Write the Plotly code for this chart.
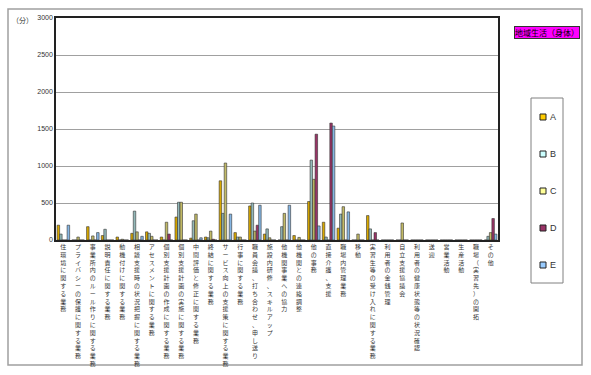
import plotly.graph_objects as go

categories = [
    "住環境に関する業務",
    "プライバシーの保護に関する業務",
    "事業所内のルール作りに関する業務",
    "説明責任に関する業務",
    "動機付けに関する業務",
    "相談支援時の状況把握に関する業務",
    "アセスメントに関する業務",
    "個別支援計画の作成に関する業務",
    "個別支援計画の実施に関する業務",
    "中間評価と修正に関する業務",
    "終結に関する業務",
    "サービス向上の支援策に関する業務",
    "行事に関する業務",
    "職員会議、打ち合わせ、申し送り",
    "施設内研修、スキルアップ",
    "他機関事業への協力",
    "他機関との連絡調整",
    "他の事務",
    "直接介護、支援",
    "職場内管理業務",
    "移動",
    "実習生等の受け入れに関する業務",
    "利用者の金銭管理",
    "自立支援協議会",
    "利用者の健康状態等の状況確認",
    "送迎",
    "営業活動",
    "生産活動",
    "職場（実習先）の開拓",
    "その他",
]

series_a = [200, 0, 180, 60, 40, 90, 110, 40, 310, 25, 40, 800, 100, 460, 80, 0, 60, 520, 240, 160, 0, 330, 0, 0, 0, 0, 0, 0, 0, 0]
series_b = [80, 0, 0, 145, 0, 390, 90, 0, 510, 260, 30, 360, 40, 500, 150, 180, 0, 1080, 40, 350, 0, 150, 0, 0, 0, 0, 0, 0, 0, 50]
series_c = [0, 40, 55, 0, 10, 110, 50, 240, 510, 350, 120, 1040, 40, 120, 30, 360, 35, 820, 0, 450, 80, 0, 0, 230, 0, 0, 0, 0, 0, 100]
series_d = [0, 0, 0, 0, 0, 0, 0, 80, 0, 0, 10, 0, 0, 200, 0, 0, 0, 1430, 1580, 0, 0, 100, 0, 0, 0, 0, 0, 0, 0, 290]
series_e = [200, 0, 100, 0, 0, 50, 0, 0, 0, 30, 0, 350, 0, 470, 0, 470, 0, 190, 1540, 380, 0, 0, 0, 0, 0, 0, 0, 0, 0, 80]

series_names = ["A", "B", "C", "D", "E"]
series_colors = ["#D8A800", "#92B8B8", "#C2BA66", "#993366", "#85B6E4"]
legend_colors = ["#FFCC00", "#CCFFFF", "#FFFF99", "#993366", "#99CCFF"]
y_ticks = [0, 500, 1000, 1500, 2000, 2500, 3000]

tick_text = ["<br>".join(list(c)) for c in categories]

fig = go.Figure()
for name, vals, col in zip(series_names, [series_a, series_b, series_c, series_d, series_e], series_colors):
    fig.add_trace(go.Bar(
        x=categories, y=vals, name=name, showlegend=False,
        marker=dict(color=col, line=dict(color="#333333", width=0.6)),
    ))

W, H = 591, 375
L, R, T, B = 56, 93, 18, 135
pw, ph = W - L - R, H - T - B

def px(x):
    return (x - L) / pw

def py(y):
    return (H - B - y) / ph

shapes = [
    dict(type="rect", xref="paper", yref="paper",
         x0=px(8), x1=px(582), y0=py(365), y1=py(9),
         line=dict(color="#A0A0A0", width=1.5), layer="below"),
    dict(type="rect", xref="paper", yref="paper",
         x0=px(531), x1=px(563), y0=py(283), y1=py(98),
         line=dict(color="#808080", width=1), fillcolor="white"),
]
annotations = [
    dict(text="（分）", xref="paper", yref="paper", x=px(22), y=py(20),
         xanchor="center", yanchor="middle",
         showarrow=False, font=dict(size=7, color="#333333")),
    dict(text="地域生活（身体）", xref="paper", yref="paper", x=px(547), y=py(32),
         xanchor="center", yanchor="middle",
         showarrow=False, bgcolor="#FF00FF", bordercolor="#333333", borderwidth=1,
         borderpad=0, font=dict(size=8, color="#000000")),
]
for i, (name, col) in enumerate(zip(series_names, legend_colors)):
    cy = 117 + 37 * i
    shapes.append(dict(type="rect", xref="paper", yref="paper",
                       x0=px(540), x1=px(546), y0=py(cy + 3), y1=py(cy - 3),
                       line=dict(color="#222222", width=1), fillcolor=col))
    annotations.append(dict(text=name, xref="paper", yref="paper", x=px(548), y=py(cy),
                            xanchor="left", yanchor="middle", showarrow=False,
                            font=dict(size=9, family="Liberation Sans", color="#333333")))

fig.update_layout(
    width=W, height=H,
    margin=dict(l=L, r=R, t=T, b=B, autoexpand=False),
    paper_bgcolor="white", plot_bgcolor="white",
    barmode="group", bargap=0.15, bargroupgap=0,
    font=dict(family="Noto Sans CJK JP", color="#333333"),
    showlegend=False,
    xaxis=dict(
        type="category", tickmode="array", tickvals=categories, ticktext=tick_text,
        tickangle=0, tickfont=dict(size=6, family="Noto Sans CJK JP", color="#333333"),
        showline=True, linecolor="#222222", linewidth=1.5, mirror=True,
        ticks="", showgrid=False, automargin=False,
    ),
    yaxis=dict(
        range=[0, 3000], tickvals=y_ticks,
        tickfont=dict(size=7, family="Liberation Sans", color="#333333"),
        showgrid=True, gridcolor="#A0A0A0", gridwidth=1,
        showline=True, linecolor="#222222", linewidth=1.5, mirror=True,
        ticks="", zeroline=False, automargin=False,
    ),
    shapes=shapes,
    annotations=annotations,
)

fig.write_html("out.html")
